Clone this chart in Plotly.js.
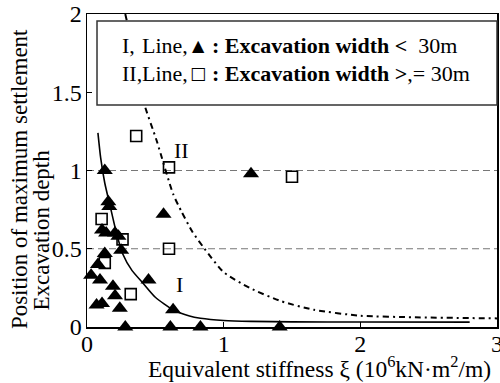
<!DOCTYPE html>
<html><head><meta charset="utf-8">
<script src="https://cdn.plot.ly/plotly-3.0.1.min.js"></script>
<style>html,body{margin:0;padding:0;background:#fff;}#chart{width:500px;height:383px;}</style>
</head><body><div id="chart"></div>
<script>
// Triangles: excavation width < 30m
const triX = [0.13, 0.156, 0.163, 0.56, 0.11, 0.14, 0.205, 0.23, 0.25, 0.13, 0.08, 0.03, 0.095, 0.19, 0.45, 0.205, 0.07, 0.11, 0.24, 0.63, 0.28, 0.61, 0.83, 1.41, 1.20];
const triY = [1.00, 0.80, 0.77, 0.72, 0.62, 0.60, 0.60, 0.58, 0.49, 0.47, 0.40, 0.33, 0.30, 0.26, 0.30, 0.20, 0.14, 0.15, 0.12, 0.11, 0.00, 0.00, 0.00, 0.00, 0.98];
// Squares: excavation width >= 30m
const sqX = [0.36, 0.60, 1.50, 0.107, 0.26, 0.60, 0.13, 0.32];
const sqY = [1.22, 1.02, 0.96, 0.69, 0.56, 0.50, 0.41, 0.21];
// Line I (solid)
const lineIX = [0.08, 0.10, 0.13, 0.17, 0.21, 0.26, 0.33, 0.41, 0.50, 0.63, 0.75, 0.83, 1.00, 1.20, 1.50, 2.00, 2.80];
const lineIY = [1.24, 1.08, 0.92, 0.77, 0.62, 0.47, 0.36, 0.28, 0.19, 0.11, 0.07, 0.056, 0.042, 0.036, 0.033, 0.032, 0.031];
// Line II (dash-dot)
const lineIIX = [0.28, 0.34, 0.41, 0.51, 0.63, 0.69, 0.77, 0.86, 1.00, 1.19, 1.42, 1.66, 2.00, 2.40, 3.00];
const lineIIY = [2.00, 1.77, 1.45, 1.19, 0.85, 0.74, 0.61, 0.50, 0.35, 0.25, 0.165, 0.11, 0.072, 0.062, 0.055];
// Ticks
const xTicks = [0, 1, 2, 3];
const xTickText = ['0', '1', '2', '3'];
const yTicks = [0, 0.5, 1, 1.5, 2];
const yTickText = ['0', '0.5', '1', '1.5', '2'];
const refLines = [0.5, 1];

const FONT = 'Liberation Serif';

const traces = [
  {x: lineIX, y: lineIY, mode: 'lines', type: 'scatter', line: {color: '#000', width: 1.6, shape: 'spline', smoothing: 0.6}, hoverinfo: 'skip'},
  {x: lineIIX, y: lineIIY, mode: 'lines', type: 'scatter', line: {color: '#000', width: 2, dash: '6px,4px,2px,4px', shape: 'spline', smoothing: 0.6}, hoverinfo: 'skip'},
  {x: triX, y: triY, mode: 'markers', type: 'scatter', cliponaxis: false,
   marker: {symbol: 'triangle-up', size: 14, color: '#000', line: {width: 0}}},
  {x: sqX, y: sqY, mode: 'markers', type: 'scatter', cliponaxis: false,
   marker: {symbol: 'square-open', size: 11, color: '#000', line: {width: 1.6}}}
];

const shapes = refLines.map(v => ({type: 'line', xref: 'paper', x0: 0, x1: 1, yref: 'y', y0: v, y1: v,
  line: {color: '#777', width: 1.2, dash: '7px,4px'}, layer: 'below'}));
shapes.push({type: 'rect', xref: 'paper', yref: 'paper', x0: 0.0244, x1: 1, y0: 0.709, y1: 0.978,
  line: {color: '#333', width: 1.5}, fillcolor: 'rgba(255,255,255,1)', layer: 'above'});

const fs = 22, ts = 23;
const txt = (x, y, text, opts) => Object.assign({xref: 'paper', yref: 'paper', x: x, y: y, xanchor: 'left', yanchor: 'middle',
  showarrow: false, text: text, font: {family: FONT, size: fs, color: '#000'}}, opts || {});
const annotations = [
  txt(0.0805, 0.898, 'I,'),
  txt(0.1295, 0.898, 'Line,'),
  txt(0.271, 0.898, '▲', {xanchor: 'center', font: {family: 'DejaVu Sans', size: 16, color: '#000'}}),
  txt(0.30, 0.898, '<b>: Excavation width &lt;</b>  30m'),
  txt(0.0805, 0.811, 'II,'),
  txt(0.1295, 0.811, 'Line,'),
  txt(0.271, 0.811, '□', {xanchor: 'center', font: {family: 'DejaVu Sans', size: 17, color: '#000'}}),
  txt(0.30, 0.811, '<b>: Excavation width &gt;</b>,= 30m'),
  {xref: 'x', yref: 'y', x: 0.68, y: 0.27, showarrow: false, text: 'I', font: {family: FONT, size: fs, color: '#000'}},
  {xref: 'x', yref: 'y', x: 0.69, y: 1.13, showarrow: false, text: 'II', font: {family: FONT, size: fs, color: '#000'}},
  txt(0.568, -0.128, 'Equivalent stiffness ξ (10<sup>6</sup>kN·m<sup>2</sup>/m)', {xanchor: 'center', font: {family: FONT, size: 23.5, color: '#000'}}),
  txt(-0.163, 0.473, 'Position of maximum settlement', {xanchor: 'center', textangle: -90, font: {family: FONT, size: ts, color: '#000'}}),
  txt(-0.110, 0.311, 'Excavation depth', {xanchor: 'center', textangle: -90, font: {family: FONT, size: ts, color: '#000'}})
];

const layout = {
  width: 500, height: 383,
  margin: {l: 87, r: 3, t: 14, b: 56},
  paper_bgcolor: '#fff', plot_bgcolor: '#fff',
  showlegend: false,
  font: {family: FONT, size: fs, color: '#000'},
  xaxis: {range: [0, 3], tickvals: xTicks, ticktext: xTickText, showline: true, mirror: true, linecolor: '#000', linewidth: 1.5,
    ticks: 'inside', ticklen: 5, tickcolor: '#000', showgrid: false, zeroline: false, ticklabelstandoff: -5,
    ticklabeloverflow: 'allow', tickfont: {family: FONT, size: 24}},
  yaxis: {range: [0, 2], tickvals: yTicks, ticktext: yTickText, showline: true, mirror: true, linecolor: '#000', linewidth: 1.5,
    ticks: 'inside', ticklen: 5, tickcolor: '#000', showgrid: false, zeroline: false, ticklabelstandoff: -1,
    ticklabeloverflow: 'allow', tickfont: {family: FONT, size: 24}},
  shapes: shapes,
  annotations: annotations
};

Plotly.newPlot('chart', traces, layout, {staticPlot: true});
</script></body></html>
